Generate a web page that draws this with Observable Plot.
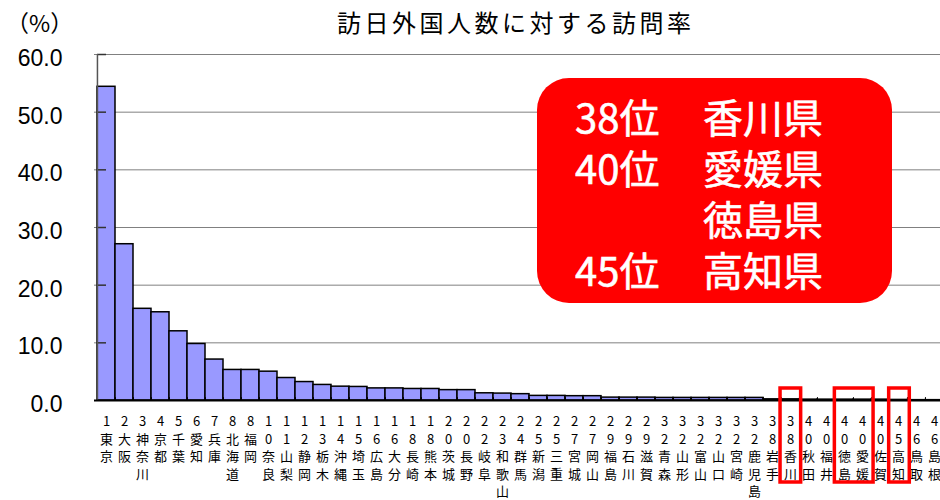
<!DOCTYPE html>
<html><head><meta charset="utf-8">
<script src="https://cdn.jsdelivr.net/npm/d3@7"></script>
<script src="https://cdn.jsdelivr.net/npm/@observablehq/plot@0.6"></script>
<style>
body{margin:0;background:#fff;}
#wrap{position:relative;width:940px;height:500px;overflow:hidden;font-family:"Noto Sans CJK JP",sans-serif;color:#000;}
#wrap svg{position:absolute;left:0;top:0;}
.title{position:absolute;left:337px;top:9px;font-size:24px;line-height:26px;letter-spacing:3.5px;white-space:nowrap;}
.unit{position:absolute;left:6px;top:10px;font-size:23px;line-height:25px;white-space:nowrap;}
.anno{position:absolute;left:537px;top:78px;width:355px;height:225px;border-radius:32px;background:#ff0000;color:#fff;}
.anno .line{position:absolute;height:51px;line-height:51px;font-size:40px;white-space:nowrap;-webkit-text-stroke:0.6px #fff;}
</style></head>
<body>
<div id="wrap"></div>
<script>
// ---- data ----
const prefectures = ["東京","大阪","神奈川","京都","千葉","愛知","兵庫","北海道","福岡","奈良","山梨","静岡","栃木","沖縄","埼玉","広島","大分","長崎","熊本","茨城","長野","岐阜","和歌山","群馬","新潟","三重","宮城","岡山","福島","石川","滋賀","青森","山形","富山","山口","宮崎","鹿児島","岩手","香川","秋田","福井","徳島","愛媛","佐賀","高知","鳥取","島根"];
const ranks = [1,2,3,4,5,6,7,8,8,10,11,12,13,14,15,16,16,18,18,20,20,22,23,24,25,25,27,27,29,29,29,32,32,32,32,32,32,38,38,40,40,40,40,40,45,46,46];
const rates = [54.4,27.1,15.9,15.3,12.0,9.8,7.1,5.3,5.3,5.0,3.9,3.2,2.7,2.4,2.35,2.1,2.1,2.0,2.0,1.8,1.8,1.25,1.2,1.1,0.8,0.8,0.75,0.75,0.5,0.5,0.5,0.45,0.45,0.45,0.45,0.45,0.45,0.2,0.2,0.15,0.15,0.15,0.15,0.15,0.1,0.06,0.06];
const yTicks = [0,10,20,30,40,50,60];
const titleText = "訪日外国人数に対する訪問率";
const unitText = "（%）";
const annoRanks = ["38位","40位","","45位"];
const annoNames = ["香川県","愛媛県","徳島県","高知県"];
const highlightGroups = [["香川"],["徳島","愛媛"],["高知"]];

// ---- chart ----
const W = 940, H = 500;
const xStart = 94, xEnd = 945;
const bw = (xEnd - xStart) / prefectures.length;
const data = prefectures.map((p, i) => ({pref: p, rank: ranks[i], rate: rates[i]}));
const labelOf = new Map(data.map(d => [d.pref, [...String(d.rank), ...d.pref].join("\n")]));

const plot = Plot.plot({
  width: W, height: H,
  marginLeft: xStart, marginRight: 0, marginTop: 54, marginBottom: 100,
  style: {background: "transparent", fontFamily: "'Noto Sans CJK JP', sans-serif", color: "#000"},
  x: {type: "band", domain: prefectures, range: [xStart, xEnd], padding: 0},
  y: {domain: [0, 60], range: [400, 54]},
  marks: [
    Plot.gridY(yTicks.filter(v => v > 0), {stroke: "#808080", strokeOpacity: 1, strokeWidth: 1}),
    Plot.barY(data, {x: "pref", y: "rate", fill: "#9999ff", stroke: "#000", strokeWidth: 1.5, inset: 0}),
    Plot.tickY(yTicks.filter(v => v > 0), {y: d => d, x: () => prefectures[0], insetRight: 9, stroke: "#333", strokeWidth: 1.5}),
    Plot.ruleX([prefectures[0]], {dx: -bw / 2, y1: 0, y2: 60, stroke: "#555", strokeWidth: 1.5}),
    Plot.ruleX(prefectures.slice(1), {dx: -bw / 2, y1: 0, y2: 0.5, stroke: "#000", strokeWidth: 1}),
    Plot.ruleY([0], {stroke: "#000", strokeWidth: 2}),
    Plot.axisY(yTicks, {tickSize: 0, tickPadding: 32, tickFormat: d => d.toFixed(1), fontSize: 23, fontFamily: "'Liberation Sans', Arial, sans-serif", dy: 4, label: null}),
    Plot.axisX({tickSize: 0, tickPadding: 13, tickFormat: d => labelOf.get(d), fontSize: 13, lineHeight: 17.6 / 13, label: null})
  ]
});

// highlight boxes positioned through the plot's own scales
const xs = plot.scale("x");
const band = d3.scaleBand().domain(xs.domain).range(xs.range)
  .paddingInner(xs.paddingInner ?? xs.padding ?? 0)
  .paddingOuter(xs.paddingOuter ?? xs.padding ?? 0)
  .align(xs.align ?? 0.5);
const ys = plot.scale("y");
const yLin = d3.scaleLinear().domain(ys.domain).range(ys.range);
const base = yLin(0);
const g = d3.select(plot).append("g");
for (const grp of highlightGroups) {
  const xsPos = grp.map(p => band(p));
  const left = Math.min(...xsPos) - 2;
  const right = Math.max(...xsPos) + band.bandwidth() + 0.5;
  g.append("rect")
    .attr("x", left).attr("y", base - 12)
    .attr("width", right - left).attr("height", 94)
    .attr("fill", "none").attr("stroke", "#ff0000").attr("stroke-width", 3.5);
}

const wrap = document.getElementById("wrap");
wrap.appendChild(plot);

const t = document.createElement("div"); t.className = "title"; t.textContent = titleText; wrap.appendChild(t);
const u = document.createElement("div"); u.className = "unit"; u.textContent = unitText; wrap.appendChild(u);
const box = document.createElement("div"); box.className = "anno"; wrap.appendChild(box);
annoNames.forEach((nm, i) => {
  const r = document.createElement("div"); r.className = "line";
  r.style.left = "38px"; r.style.top = (13 + i * 51) + "px"; r.textContent = annoRanks[i];
  box.appendChild(r);
  const n = document.createElement("div"); n.className = "line";
  n.style.left = "166px"; n.style.top = (13 + i * 51) + "px"; n.textContent = nm;
  box.appendChild(n);
});
</script>
</body></html>
